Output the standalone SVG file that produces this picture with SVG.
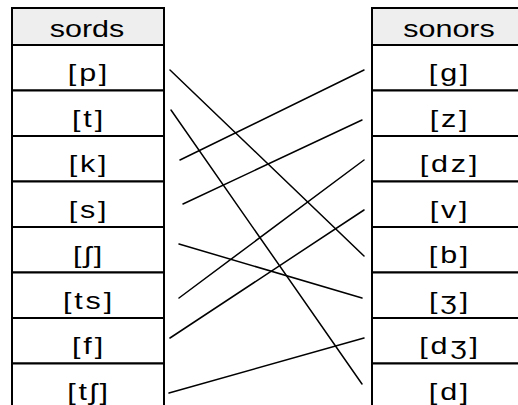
<svg xmlns="http://www.w3.org/2000/svg" width="518" height="405" viewBox="0 0 518 405">
<style>
.cell{fill:#ffffff;stroke:#000;stroke-width:2}
.head{fill:#eeeeee;stroke:#000;stroke-width:2}
.t{font-family:"Liberation Sans","DejaVu Sans",Arial,sans-serif;font-size:24px;fill:#000;text-anchor:middle}
.ph{letter-spacing:2.2px}
.ln{stroke:#000;stroke-width:1.5;fill:none;stroke-linecap:round}
</style>
<rect x="0" y="0" width="518" height="405" fill="#ffffff"/>
<g id="left-column">
<g id="sords"><rect class="head" x="12" y="8" width="152" height="37"/><text class="t" transform="translate(87,36.5) scale(1.27,1)">sords</text></g>
<g id="p"><rect class="cell" x="12" y="45" width="152" height="45.5"/><text class="t ph" transform="translate(89,81) scale(1.27,1)">[p]</text></g>
<g id="t"><rect class="cell" x="12" y="90.5" width="152" height="45.5"/><text class="t ph" transform="translate(89,126.5) scale(1.27,1)">[t]</text></g>
<g id="k"><rect class="cell" x="12" y="136" width="152" height="45.5"/><text class="t ph" transform="translate(89,172) scale(1.27,1)">[k]</text></g>
<g id="s"><rect class="cell" x="12" y="181.5" width="152" height="45.5"/><text class="t ph" transform="translate(89,217.5) scale(1.27,1)">[s]</text></g>
<g id="sh"><rect class="cell" x="12" y="227" width="152" height="45.5"/><text class="t ph" transform="translate(89,263) scale(1.27,1)">[ʃ]</text></g>
<g id="ts"><rect class="cell" x="12" y="272.5" width="152" height="45.5"/><text class="t ph" transform="translate(89,308.5) scale(1.27,1)">[ts]</text></g>
<g id="f"><rect class="cell" x="12" y="318" width="152" height="45.5"/><text class="t ph" transform="translate(89,354) scale(1.27,1)">[f]</text></g>
<g id="tsh"><rect class="cell" x="12" y="363.5" width="152" height="45.5"/><text class="t ph" transform="translate(89,399.5) scale(1.27,1)">[tʃ]</text></g>
</g>
<g id="right-column">
<g id="sonors"><rect class="head" x="372" y="8" width="154" height="37"/><text class="t" transform="translate(449,36.5) scale(1.27,1)">sonors</text></g>
<g id="g"><rect class="cell" x="372" y="45" width="154" height="45.5"/><text class="t ph" transform="translate(450,81) scale(1.27,1)">[g]</text></g>
<g id="z"><rect class="cell" x="372" y="90.5" width="154" height="45.5"/><text class="t ph" transform="translate(450,126.5) scale(1.27,1)">[z]</text></g>
<g id="dz"><rect class="cell" x="372" y="136" width="154" height="45.5"/><text class="t ph" transform="translate(450,172) scale(1.27,1)">[dz]</text></g>
<g id="v"><rect class="cell" x="372" y="181.5" width="154" height="45.5"/><text class="t ph" transform="translate(450,217.5) scale(1.27,1)">[v]</text></g>
<g id="b"><rect class="cell" x="372" y="227" width="154" height="45.5"/><text class="t ph" transform="translate(450,263) scale(1.27,1)">[b]</text></g>
<g id="zh"><rect class="cell" x="372" y="272.5" width="154" height="45.5"/><text class="t ph" transform="translate(450,308.5) scale(1.27,1)">[ʒ]</text></g>
<g id="dzh"><rect class="cell" x="372" y="318" width="154" height="45.5"/><text class="t ph" transform="translate(450,354) scale(1.27,1)">[dʒ]</text></g>
<g id="d"><rect class="cell" x="372" y="363.5" width="154" height="45.5"/><text class="t ph" transform="translate(450,399.5) scale(1.27,1)">[d]</text></g>
</g>
<g id="connectors">
<line class="ln" x1="170" y1="70" x2="364" y2="256"/>
<line class="ln" x1="171" y1="110" x2="362" y2="384"/>
<line class="ln" x1="180" y1="160" x2="364" y2="70"/>
<line class="ln" x1="183" y1="204" x2="362" y2="120"/>
<line class="ln" x1="179" y1="244" x2="362" y2="298"/>
<line class="ln" x1="179" y1="298" x2="364" y2="160"/>
<line class="ln" x1="170" y1="338" x2="364" y2="210"/>
<line class="ln" x1="169" y1="393" x2="364" y2="338"/>
</g>
</svg>
